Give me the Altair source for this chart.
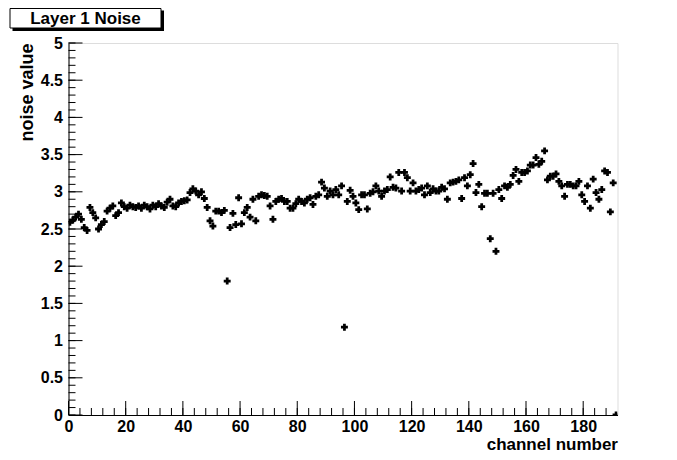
import altair as alt
import pandas as pd
import numpy as np

# noise value per channel (bin centres at channel + 0.5)
noise_values = [
    2.59, 2.62, 2.66, 2.70, 2.63, 2.52, 2.48, 2.79, 2.72, 2.65, 2.50, 2.56, 2.60, 2.74, 2.78, 2.81, 2.68, 2.72, 2.85, 2.80,
    2.78, 2.82, 2.80, 2.79, 2.81, 2.78, 2.82, 2.80, 2.77, 2.82, 2.80, 2.84, 2.81, 2.79, 2.86, 2.90, 2.81, 2.80, 2.85, 2.87,
    2.88, 2.89, 2.99, 3.04, 3.01, 2.96, 3.00, 2.91, 2.79, 2.61, 2.54, 2.74, 2.74, 2.72, 2.75, 1.80, 2.52, 2.71, 2.56, 2.92,
    2.57, 2.72, 2.79, 2.66, 2.90, 2.61, 2.94, 2.96, 2.95, 2.94, 2.81, 2.63, 2.87, 2.90, 2.91, 2.87, 2.87, 2.78, 2.78, 2.84,
    2.90, 2.87, 2.85, 2.90, 2.92, 2.83, 2.94, 2.96, 3.13, 3.05, 2.94, 3.01, 2.96, 3.03, 2.96, 3.08, 1.18, 2.87, 3.02, 2.94,
    2.85, 2.76, 2.96, 2.96, 2.77, 2.98, 3.00, 3.08, 3.01, 2.94, 3.01, 3.03, 3.20, 3.06, 3.05, 3.26, 3.01, 3.26, 3.19, 3.01,
    3.12, 3.01, 3.03, 3.05, 2.96, 3.08, 2.99, 3.04, 3.01, 3.01, 3.06, 3.04, 2.90, 3.12, 3.13, 3.14, 3.16, 2.91, 3.19, 3.08,
    3.23, 3.38, 2.99, 3.10, 2.80, 2.98, 2.98, 2.37, 2.98, 2.20, 3.03, 2.91, 3.08, 3.06, 3.10, 3.22, 3.30, 3.14, 3.26, 3.26,
    3.28, 3.36, 3.36, 3.46, 3.37, 3.41, 3.55, 3.16, 3.21, 3.21, 3.24, 3.14, 3.08, 2.94, 3.10, 3.10, 3.08, 3.08, 3.14, 2.96,
    2.87, 3.08, 2.78, 3.17, 2.99, 2.90, 3.03, 3.28, 3.26, 2.73, 3.12, 0.0,
]
channels = (np.arange(len(noise_values)) + 0.5).tolist()

x_major = [0, 20, 40, 60, 80, 100, 120, 140, 160, 180]
x_minor = list(range(0, 192, 4))
y_major = [0, 0.5, 1, 1.5, 2, 2.5, 3, 3.5, 4, 4.5, 5]
y_minor = [round(0.1 * i, 1) for i in range(0, 51)]

title_text = "Layer 1 Noise"
x_title = "channel number"
y_title = "noise value"

W, H = 549, 372
FONT = "Liberation Sans"

xs = alt.Scale(domain=[0, 192], nice=False, zero=False)
ys = alt.Scale(domain=[0, 5], nice=False, zero=False)

x_axis = alt.Axis(
    values=x_major, ticks=False, grid=False, domain=True, domainColor="black",
    labelFont=FONT, labelFontSize=16, labelFontWeight="bold", labelColor="black",
    labelPadding=3, labelFlush=False, labelOverlap=False,
    title=x_title, titleFont=FONT, titleFontSize=17, titleFontWeight="bold",
    titleColor="black", titleAlign="right", titleAnchor="end", titleX=W, titleY=34,
    titleBaseline="alphabetic")
y_axis = alt.Axis(
    values=y_major, format="~g", ticks=False, grid=False, domain=True, domainColor="black",
    labelFont=FONT, labelFontSize=16, labelFontWeight="bold", labelColor="black",
    labelPadding=6, labelFlush=False, labelOverlap=False,
    title=y_title, titleFont=FONT, titleFontSize=18, titleFontWeight="bold",
    titleColor="black", titleAlign="right", titleAngle=270, titleX=-36, titleY=0,
    titleBaseline="alphabetic")

df = pd.DataFrame({"channel": channels, "noise": noise_values})

points = alt.Chart(df).mark_point(
    shape="cross", filled=True, color="black", size=48, opacity=1, clip=True
).encode(
    x=alt.X("channel:Q", scale=xs, axis=x_axis, title=x_title),
    y=alt.Y("noise:Q", scale=ys, axis=y_axis, title=y_title),
)

ymaj = alt.Chart(pd.DataFrame({"v": y_major})).mark_rule(color="black", strokeWidth=1).encode(
    y=alt.Y("v:Q", scale=ys, axis=y_axis, title=y_title), x=alt.value(0), x2=alt.value(14))
ymin = alt.Chart(pd.DataFrame({"v": y_minor})).mark_rule(color="black", strokeWidth=1).encode(
    y=alt.Y("v:Q", scale=ys, axis=y_axis, title=y_title), x=alt.value(0), x2=alt.value(7))
xmaj = alt.Chart(pd.DataFrame({"v": x_major})).mark_rule(color="black", strokeWidth=1).encode(
    x=alt.X("v:Q", scale=xs, axis=x_axis, title=x_title), y=alt.value(H), y2=alt.value(H - 14))
xmin = alt.Chart(pd.DataFrame({"v": x_minor})).mark_rule(color="black", strokeWidth=1).encode(
    x=alt.X("v:Q", scale=xs, axis=x_axis, title=x_title), y=alt.value(H), y2=alt.value(H - 7))

one = alt.Data(values=[{}])
shadow = alt.Chart(one).mark_rect(color="black").encode(
    x=alt.value(-56), x2=alt.value(95.5), y=alt.value(-32.5), y2=alt.value(-12))
box = alt.Chart(one).mark_rect(fill="white", stroke="black", strokeWidth=1).encode(
    x=alt.value(-58.5), x2=alt.value(92.5), y=alt.value(-34.5), y2=alt.value(-15))
label = alt.Chart(one).mark_text(
    text=title_text, font=FONT, fontSize=17, fontWeight="bold", color="black",
    align="center", baseline="alphabetic").encode(x=alt.value(17), y=alt.value(-19))

chart = alt.layer(points, xmin, xmaj, ymin, ymaj, shadow, box, label).properties(
    width=W, height=H,
    autosize=alt.AutoSizeParams(type="none"),
    padding={"left": 60.5, "top": 35, "right": 50, "bottom": 37},
).configure_view(stroke="black", strokeWidth=1).configure(background="white")

chart.save("out.html", embed_options={"renderer": "svg", "actions": False})
